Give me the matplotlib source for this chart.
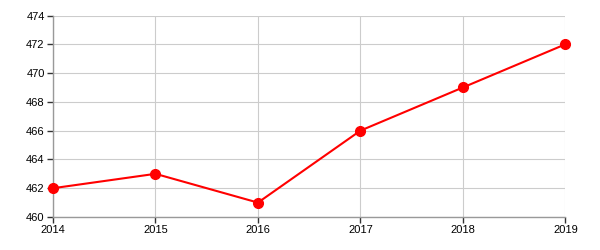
import matplotlib
matplotlib.use("Agg")
import matplotlib.pyplot as plt

plt.rcParams['font.family'] = ['Liberation Sans', 'DejaVu Sans']

years = [2014, 2015, 2016, 2017, 2018, 2019]
values = [462, 463, 461, 466, 469, 472]
y_ticks = [460, 462, 464, 466, 468, 470, 472, 474]

fig = plt.figure(figsize=(6, 2.5), dpi=100)
ax = fig.add_axes([0.0883, 0.132, 0.854, 0.806])

ax.plot(years, values, color='#ff0000', lw=1.5, marker='o', ms=7, zorder=3, clip_on=False)

ax.set_xlim(2014, 2019)
ax.set_ylim(460, 474)
ax.set_xticks(years)
ax.set_yticks(y_ticks)
ax.grid(True, color='#cccccc', lw=0.8)
ax.set_axisbelow(True)

for s in ['top', 'right']:
    ax.spines[s].set_visible(False)
for s in ['left', 'bottom']:
    ax.spines[s].set_color('#999999')
    ax.spines[s].set_linewidth(1)

ax.tick_params(axis='both', length=4, width=1, color='#333333', labelsize=8, pad=2)

fig.savefig('out.png', dpi=100)
